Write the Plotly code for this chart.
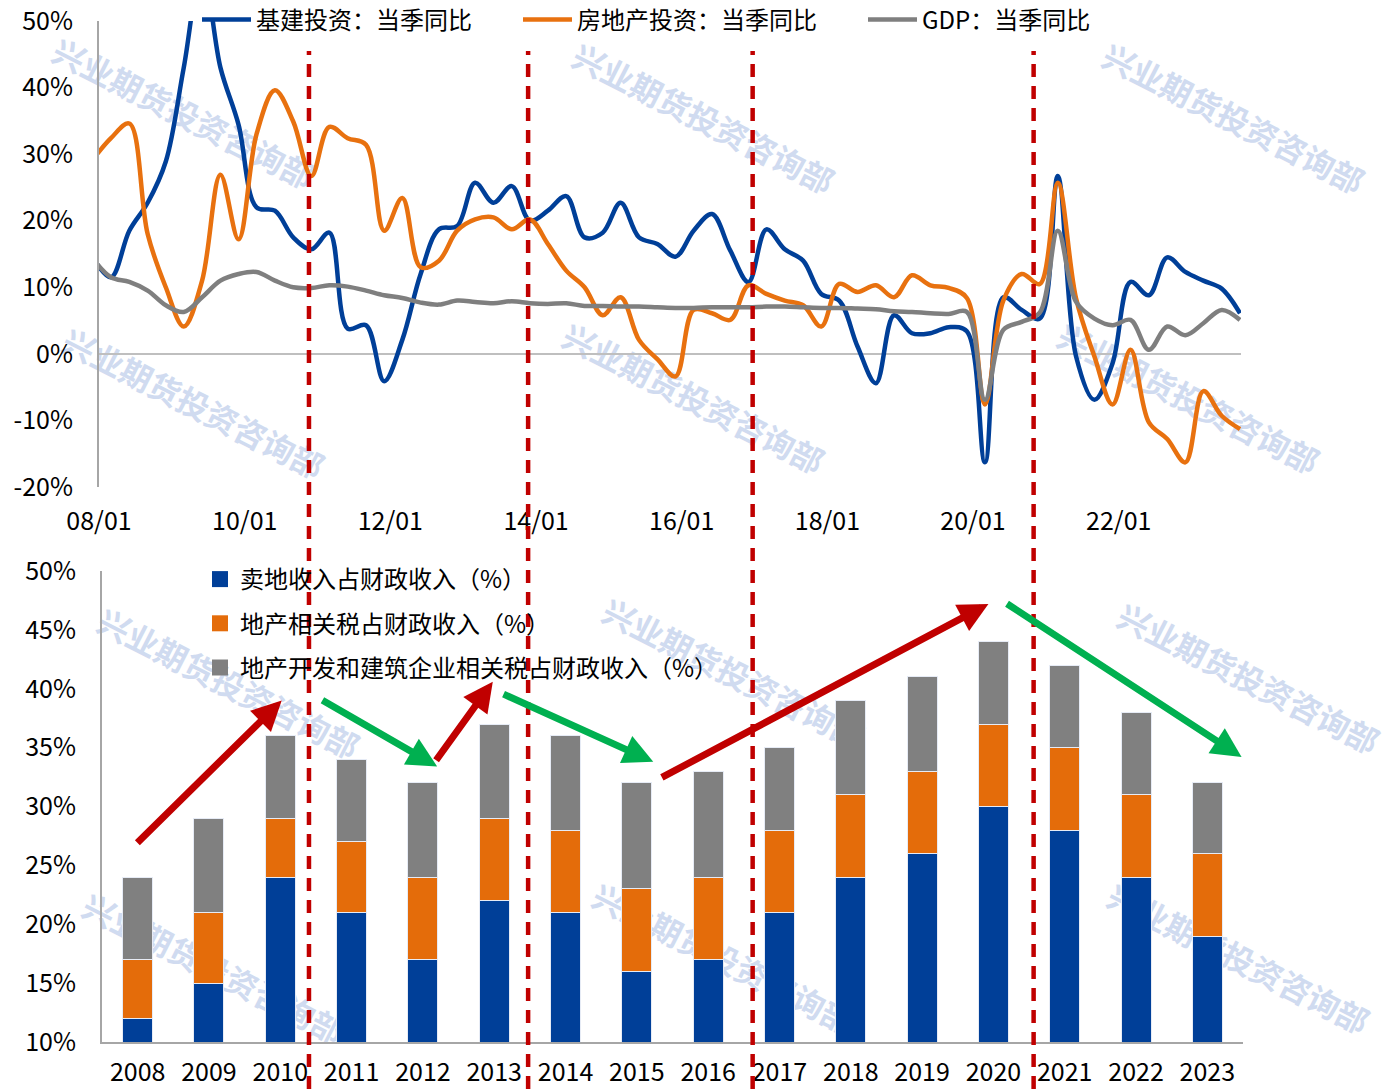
import plotly.graph_objects as go
import pandas as pd
import math

# ---------------- data ----------------
quarters = [d.strftime("%Y-%m-%d") for d in pd.date_range("2007-12-01", "2023-09-01", freq="3MS")]

infra = [14.5, 11.5, 18.5, 22.7, 28.9, 43.0, 58.0, 43.0, 34.4, 22.0, 21.5,
         17.5, 15.7, 18.2, 3.8, 4.3, -4.1, 2.1, 12.0, 18.7, 19.2,
         25.7, 22.7, 25.2, 20.0, 21.5, 23.7, 17.5, 18.2, 22.7, 17.5,
         16.5, 14.6, 18.5, 21.0, 15.5, 10.8, 18.7, 15.7, 14.0, 9.0,
         8.0, 1.1, -4.4, 5.8, 3.1, 3.1, 4.0, 3.4, -16.3, 8.5,
         6.6, 5.3, 26.7, -0.4, -6.9, -1.4, 10.8, 8.8, 14.5, 12.3,
         11.0, 9.8, 6.1]
realestate = [29.2, 32.4, 34.6, 18.0, 10.0, 4.1, 11.0, 26.9, 17.2, 33.0, 39.6,
              34.9, 26.7, 34.1, 32.4, 31.4, 18.5, 23.4, 13.0, 14.0, 18.5,
              20.2, 20.5, 18.7, 20.2, 16.5, 12.5, 10.0, 5.8, 8.5, 2.1,
              -0.8, -3.4, 6.6, 6.1, 5.1, 10.3, 9.0, 8.0, 7.3, 4.1,
              10.5, 9.3, 10.3, 8.5, 11.8, 10.3, 9.9, 8.4, -7.6, 8.0,
              12.0, 10.5, 25.7, 8.3, -0.4, -7.6, 0.6, -10.3, -12.8, -16.3,
              -5.6, -9.3, -11.3]
gdp = [14.3, 11.5, 10.8, 9.5, 7.3, 6.3, 8.5, 11.0, 12.0, 12.3, 11.0,
       10.0, 9.9, 10.3, 10.1, 9.5, 8.8, 8.4, 7.7, 7.4, 8.0,
       7.8, 7.6, 7.9, 7.6, 7.5, 7.6, 7.2, 7.2, 7.1, 7.1,
       7.0, 6.9, 6.9, 7.0, 7.0, 7.0, 7.1, 7.1, 7.0, 6.9,
       6.9, 6.8, 6.7, 6.4, 6.3, 6.1, 6.0, 6.3, -6.9, 3.6,
       4.8, 6.2, 18.5, 7.8, 5.3, 4.3, 5.1, 0.6, 4.1, 2.8,
       4.6, 6.6, 5.1]

line_names = ["基建投资：当季同比", "房地产投资：当季同比", "GDP：当季同比"]

top_yticks = [-20, -10, 0, 10, 20, 30, 40, 50]
top_yticktext = ["-20%", "-10%", "0%", "10%", "20%", "30%", "40%", "50%"]

years = list(range(2008, 2024))
land_sale = [12, 15, 24, 21, 17, 22, 21, 16, 17, 21, 24, 26, 30, 28, 24, 19]
re_tax = [5, 6, 5, 6, 7, 7, 7, 7, 7, 7, 7, 7, 7, 7, 7, 7]
dev_tax = [7, 8, 7, 7, 8, 8, 8, 9, 9, 7, 8, 8, 7, 7, 7, 6]
bar_names = ["卖地收入占财政收入（%）", "地产相关税占财政收入（%）", "地产开发和建筑企业相关税占财政收入（%）"]

divider_dates = ["2010-11-19", "2013-11-22", "2016-12-22", "2020-10-31"]

# arrows on the bar chart: (tail_x, tail_y, head_x, head_y, color)
arrows = [
    (2007.975, 26.8, 2010.02, 39.0, "red"),
    (2010.57, 39.1, 2012.20, 33.4, "green"),
    (2012.17, 33.8, 2012.98, 40.6, "red"),
    (2013.11, 39.6, 2015.23, 33.8, "green"),
    (2015.33, 32.4, 2019.93, 47.2, "red"),
    (2020.17, 47.3, 2023.48, 34.2, "green"),
]

watermark = "兴业期货投资咨询部"
watermark_centers = [(170, 140), (690, 145), (1220, 145),
                     (180, 430), (680, 425), (1175, 425),
                     (215, 710), (720, 700), (1235, 705),
                     (200, 995), (710, 985), (1225, 985)]

# ---------------- styling ----------------
W, H = 1388, 1089
FONT = "Noto Sans CJK SC"
BLUE = "#003F98"
ORANGE = "#E46C0A"
GRAY = "#808080"
LINE_COLORS = ["#003F98", "#E8710F", "#7F7F7F"]
RED = "#C00000"
GREEN = "#00B050"
AXIS_GRAY = "#A6A6A6"

fig = go.Figure()

legend_keys = ["legend", "legend3", "legend4"]
for name, vals, col, lk in zip(line_names, [infra, realestate, gdp], LINE_COLORS, legend_keys):
    fig.add_trace(go.Scatter(
        x=quarters, y=vals, name=name, mode="lines",
        line=dict(color=col, width=4.5, shape="spline", smoothing=1.0),
        xaxis="x", yaxis="y", legend=lk))

for i, (name, vals, col) in enumerate(zip(bar_names, [land_sale, re_tax, dev_tax], [BLUE, ORANGE, GRAY])):
    fig.add_trace(go.Bar(
        x=years, y=vals, name=name, marker=dict(color=col, line=dict(color="#E6EBF5", width=1)),
        xaxis="x2", yaxis="y2", legend="legend2", legendgroup=f"g{i}", showlegend=False))
    # legend swatch (bigger square like the original)
    fig.add_trace(go.Scatter(
        x=[None], y=[None], name=name, mode="markers",
        marker=dict(color=col, symbol="square", size=16),
        xaxis="x2", yaxis="y2", legend="legend2", legendgroup=f"g{i}"))

shapes = []
for d in divider_dates:
    shapes.append(dict(type="line", xref="x", yref="paper", x0=d, x1=d, y0=0, y1=1 - 51 / H,
                       line=dict(color=RED, width=4.5, dash="13px,9px"), layer="above"))

# watermark (below data)
ang = 27
L = 150
for cx, cy in watermark_centers:
    dx = L * math.cos(math.radians(ang))
    dy = L * math.sin(math.radians(ang))
    shapes.append(dict(type="line", xref="paper", yref="paper",
                       x0=(cx - dx) / W, x1=(cx + dx) / W,
                       y0=1 - (cy - dy) / H, y1=1 - (cy + dy) / H,
                       line=dict(width=0, color="rgba(0,0,0,0)"), layer="below",
                       label=dict(text=watermark, textposition="middle",
                                  font=dict(family=FONT, size=32, color="#D0DBF0", weight=700))))

annotations = []
for tx, ty, hx, hy, c in arrows:
    annotations.append(dict(x=hx, y=hy, ax=tx, ay=ty, xref="x2", yref="y2", axref="x2", ayref="y2",
                            text="", showarrow=True, arrowhead=2, arrowsize=0.85, arrowwidth=7,
                            arrowcolor=RED if c == "red" else GREEN, standoff=0, startstandoff=0))

tickfont = dict(family=FONT, size=25, color="#000000")
legfont = dict(family=FONT, size=24, color="#000000")

fig.update_layout(
    width=W, height=H,
    margin=dict(l=0, r=0, t=0, b=0, autoexpand=False),
    paper_bgcolor="white", plot_bgcolor="white",
    barmode="stack", bargap=0.58,
    font=dict(family=FONT, size=24, color="#000000"),
    xaxis=dict(domain=[99 / W, 1241 / W], type="date", range=["2008-01-01", "2023-09-06"],
               tick0="2008-01-01", dtick="M24", tickformat="%y/%m", tickfont=tickfont,
               showgrid=False, showline=False, zeroline=False, ticks="", anchor="y",
               ticklabelstandoff=17, automargin=False, ticklabeloverflow="allow"),
    yaxis=dict(domain=[1 - 487 / H, 1 - 21 / H], range=[-20, 50], tickvals=top_yticks, ticktext=top_yticktext,
               tickfont=tickfont, showgrid=False, showline=True, linecolor=AXIS_GRAY, linewidth=2,
               zeroline=True, zerolinecolor="#BFBFBF", zerolinewidth=2, ticks="", anchor="x",
               ticklabelstandoff=19, automargin=False, ticklabeloverflow="allow"),
    xaxis2=dict(domain=[102 / W, 1243 / W], range=[2007.5, 2023.5], tickvals=years,
                ticktext=[str(y) for y in years], tickfont=tickfont, showgrid=False,
                showline=True, linecolor=AXIS_GRAY, linewidth=2, zeroline=False, ticks="", anchor="y2",
                ticklabelstandoff=7, automargin=False, ticklabeloverflow="allow"),
    yaxis2=dict(domain=[1 - 1042 / H, 1 - 571 / H], range=[10, 50], tick0=10, dtick=5, ticksuffix="%",
                tickfont=tickfont, showgrid=False, showline=True, linecolor=AXIS_GRAY, linewidth=2,
                zeroline=False, ticks="", anchor="x2", ticklabelstandoff=19, automargin=False,
                ticklabeloverflow="allow"),
    legend=dict(x=197 / W, y=1 - 20 / H, xanchor="left", yanchor="middle", orientation="h",
                font=legfont, bgcolor="rgba(0,0,0,0)", itemwidth=49),
    legend3=dict(x=518 / W, y=1 - 20 / H, xanchor="left", yanchor="middle", orientation="h",
                 font=legfont, bgcolor="rgba(0,0,0,0)", itemwidth=49),
    legend4=dict(x=863 / W, y=1 - 20 / H, xanchor="left", yanchor="middle", orientation="h",
                 font=legfont, bgcolor="rgba(0,0,0,0)", itemwidth=49),
    legend2=dict(x=200 / W, y=1 - 557 / H, xanchor="left", yanchor="top", orientation="v",
                 font=legfont, bgcolor="rgba(0,0,0,0)", traceorder="grouped", tracegroupgap=10,
                 itemwidth=30),
    shapes=shapes,
    annotations=annotations,
    showlegend=True,
)

fig.write_html("out.html")
